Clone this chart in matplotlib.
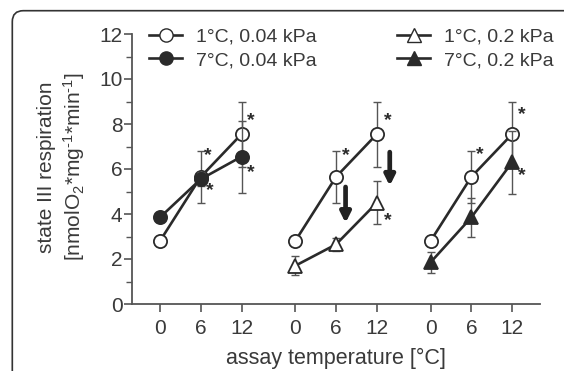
import matplotlib
matplotlib.use("Agg")
import matplotlib.pyplot as plt
from matplotlib.patches import FancyBboxPatch
from matplotlib.lines import Line2D

plt.rcParams['font.family'] = ['Liberation Sans', 'DejaVu Sans']
plt.rcParams['mathtext.fontset'] = 'custom'
plt.rcParams['mathtext.rm'] = 'Liberation Sans'
plt.rcParams['mathtext.it'] = 'Liberation Sans:italic'
plt.rcParams['mathtext.default'] = 'regular'

# ---------------- data ----------------
temps = [0, 6, 12]
tick_labels = ["0", "6", "12"]
group_gap = 19.9

open_circle = [2.8, 5.65, 7.55]          # 1°C, 0.04 kPa (repeated in each panel)
open_circle_err = [0.0, 1.15, 1.45]
filled_circle = [3.85, 5.55, 6.55]       # 7°C, 0.04 kPa
filled_circle_err = [0.0, 0.3, 1.6]
open_tri = [1.7, 2.65, 4.5]              # 1°C, 0.2 kPa
open_tri_err = [0.42, 0.3, 0.95]
filled_tri = [1.85, 3.85, 6.3]           # 7°C, 0.2 kPa
filled_tri_err = [0.45, 0.85, 1.4]

star_group = [0, 0, 0, 0, 1, 1, 1, 2, 2, 2]
star_temp = [13.4, 7.1, 7.4, 13.4, 7.4, 13.6, 13.6, 7.3, 13.4, 13.4]
star_y = [8.17, 6.6, 5.04, 5.85, 6.6, 8.17, 3.7, 6.65, 8.4, 5.7]

arrow_group = [1, 1]
arrow_temp = [7.4, 13.9]
arrow_start = [5.2, 6.75]
arrow_end = [3.6, 5.25]

# ---------------- figure ----------------
W, H = 5.64, 3.71
fig = plt.figure(figsize=(W, H), dpi=100)
ax = fig.add_axes([132.3/564, 1-304/371, (540-132.3)/564, (304-34)/371])

line_c = '#2a2a2a'
err_c = '#555555'
txt_c = '#3a3a3a'
ms = 9.5

def xs(g):
    return [t + g*group_gap for t in temps]

def series(g, y, e, marker, fc, z):
    x = xs(g)
    ax.errorbar(x, y, yerr=e, fmt='none', ecolor=err_c, elinewidth=1.0,
                capsize=3, capthick=1.0, zorder=z-1)
    ax.plot(x, y, '-', color=line_c, lw=1.9, marker=marker, ms=ms,
            mfc=fc, mec=line_c, mew=1.3, zorder=z)

# panel 1
series(0, open_circle, open_circle_err, 'o', 'white', 3)
series(0, filled_circle, filled_circle_err, 'o', line_c, 4)
# panel 2
series(1, open_circle, open_circle_err, 'o', 'white', 3)
series(1, open_tri, open_tri_err, '^', 'white', 4)
# panel 3
series(2, open_circle, open_circle_err, 'o', 'white', 3)
series(2, filled_tri, filled_tri_err, '^', line_c, 4)

for g, t, y in zip(star_group, star_temp, star_y):
    ax.text(t + g*group_gap, y, '*', ha='center', va='center',
            fontsize=14, color=line_c, fontweight='bold')

for g, t, y0, y1 in zip(arrow_group, arrow_temp, arrow_start, arrow_end):
    ax.annotate('', xy=(t + g*group_gap, y1), xytext=(t + g*group_gap, y0),
                arrowprops=dict(arrowstyle='-|>', lw=3.4, color='#222222',
                                mutation_scale=15, shrinkA=0, shrinkB=0))

# axes styling
ax.set_xlim(-4.07, 55.9)
ax.set_ylim(0, 12)
ax.spines['top'].set_visible(False)
ax.spines['right'].set_visible(False)
for s in ['left', 'bottom']:
    ax.spines[s].set_color('#555555')
    ax.spines[s].set_linewidth(1.3)
ax.set_yticks(range(0, 13, 2))
ax.set_yticks(range(0, 13, 1), minor=True)
all_x = xs(0) + xs(1) + xs(2)
ax.set_xticks(all_x)
ax.set_xticklabels(tick_labels * 3)
ax.tick_params(axis='both', which='major', labelsize=15, colors='#555555',
               labelcolor=txt_c, width=1.2, length=6)
ax.tick_params(axis='y', which='minor', length=4, width=1.0, colors='#555555')
ax.tick_params(axis='x', pad=5)
ax.tick_params(axis='y', pad=1)

# legends
h1 = Line2D([], [], color=line_c, lw=1.9, marker='o', ms=ms, mfc='white', mec=line_c)
h2 = Line2D([], [], color=line_c, lw=1.9, marker='o', ms=ms, mfc=line_c, mec=line_c)
h3 = Line2D([], [], color=line_c, lw=1.9, marker='^', ms=ms, mfc='white', mec=line_c)
h4 = Line2D([], [], color=line_c, lw=1.9, marker='^', ms=ms, mfc=line_c, mec=line_c)
leg_kw = dict(loc='upper left', frameon=False, fontsize=14, handlelength=1.7,
              handletextpad=0.7, labelspacing=0.3, labelcolor=txt_c,
              borderpad=0, borderaxespad=0, bbox_transform=fig.transFigure)
leg1 = ax.legend([h1, h2], ['1°C, 0.04 kPa', '7°C, 0.04 kPa'],
                 bbox_to_anchor=(149/564, 1-28/371), **leg_kw)
ax.add_artist(leg1)
ax.legend([h3, h4], ['1°C, 0.2 kPa', '7°C, 0.2 kPa'],
          bbox_to_anchor=(397/564, 1-28/371), **leg_kw)

fig.text(47/564, 1-167/371, 'state III respiration',
         rotation=90, ha='center', va='center', fontsize=15, color=txt_c)
fig.text(74/564, 1-167/371, '[nmolO$_2$*mg$^{\u20101}$*min$^{\u20101}$]',
         rotation=90, ha='center', va='center', fontsize=15, color=txt_c)
fig.text(336/564, 1-358/371, 'assay temperature [°C]', ha='center',
         va='center', fontsize=15.5, color=txt_c)

# rounded frame
frame = FancyBboxPatch((0.123, -0.6), 6.0, (H - 0.107) + 0.6,
                       boxstyle='round,pad=0,rounding_size=0.11',
                       transform=fig.dpi_scale_trans, fill=False,
                       edgecolor='#333333', lw=1.2, clip_on=False)
fig.patches.append(frame)

fig.savefig('out.png', dpi=100)
